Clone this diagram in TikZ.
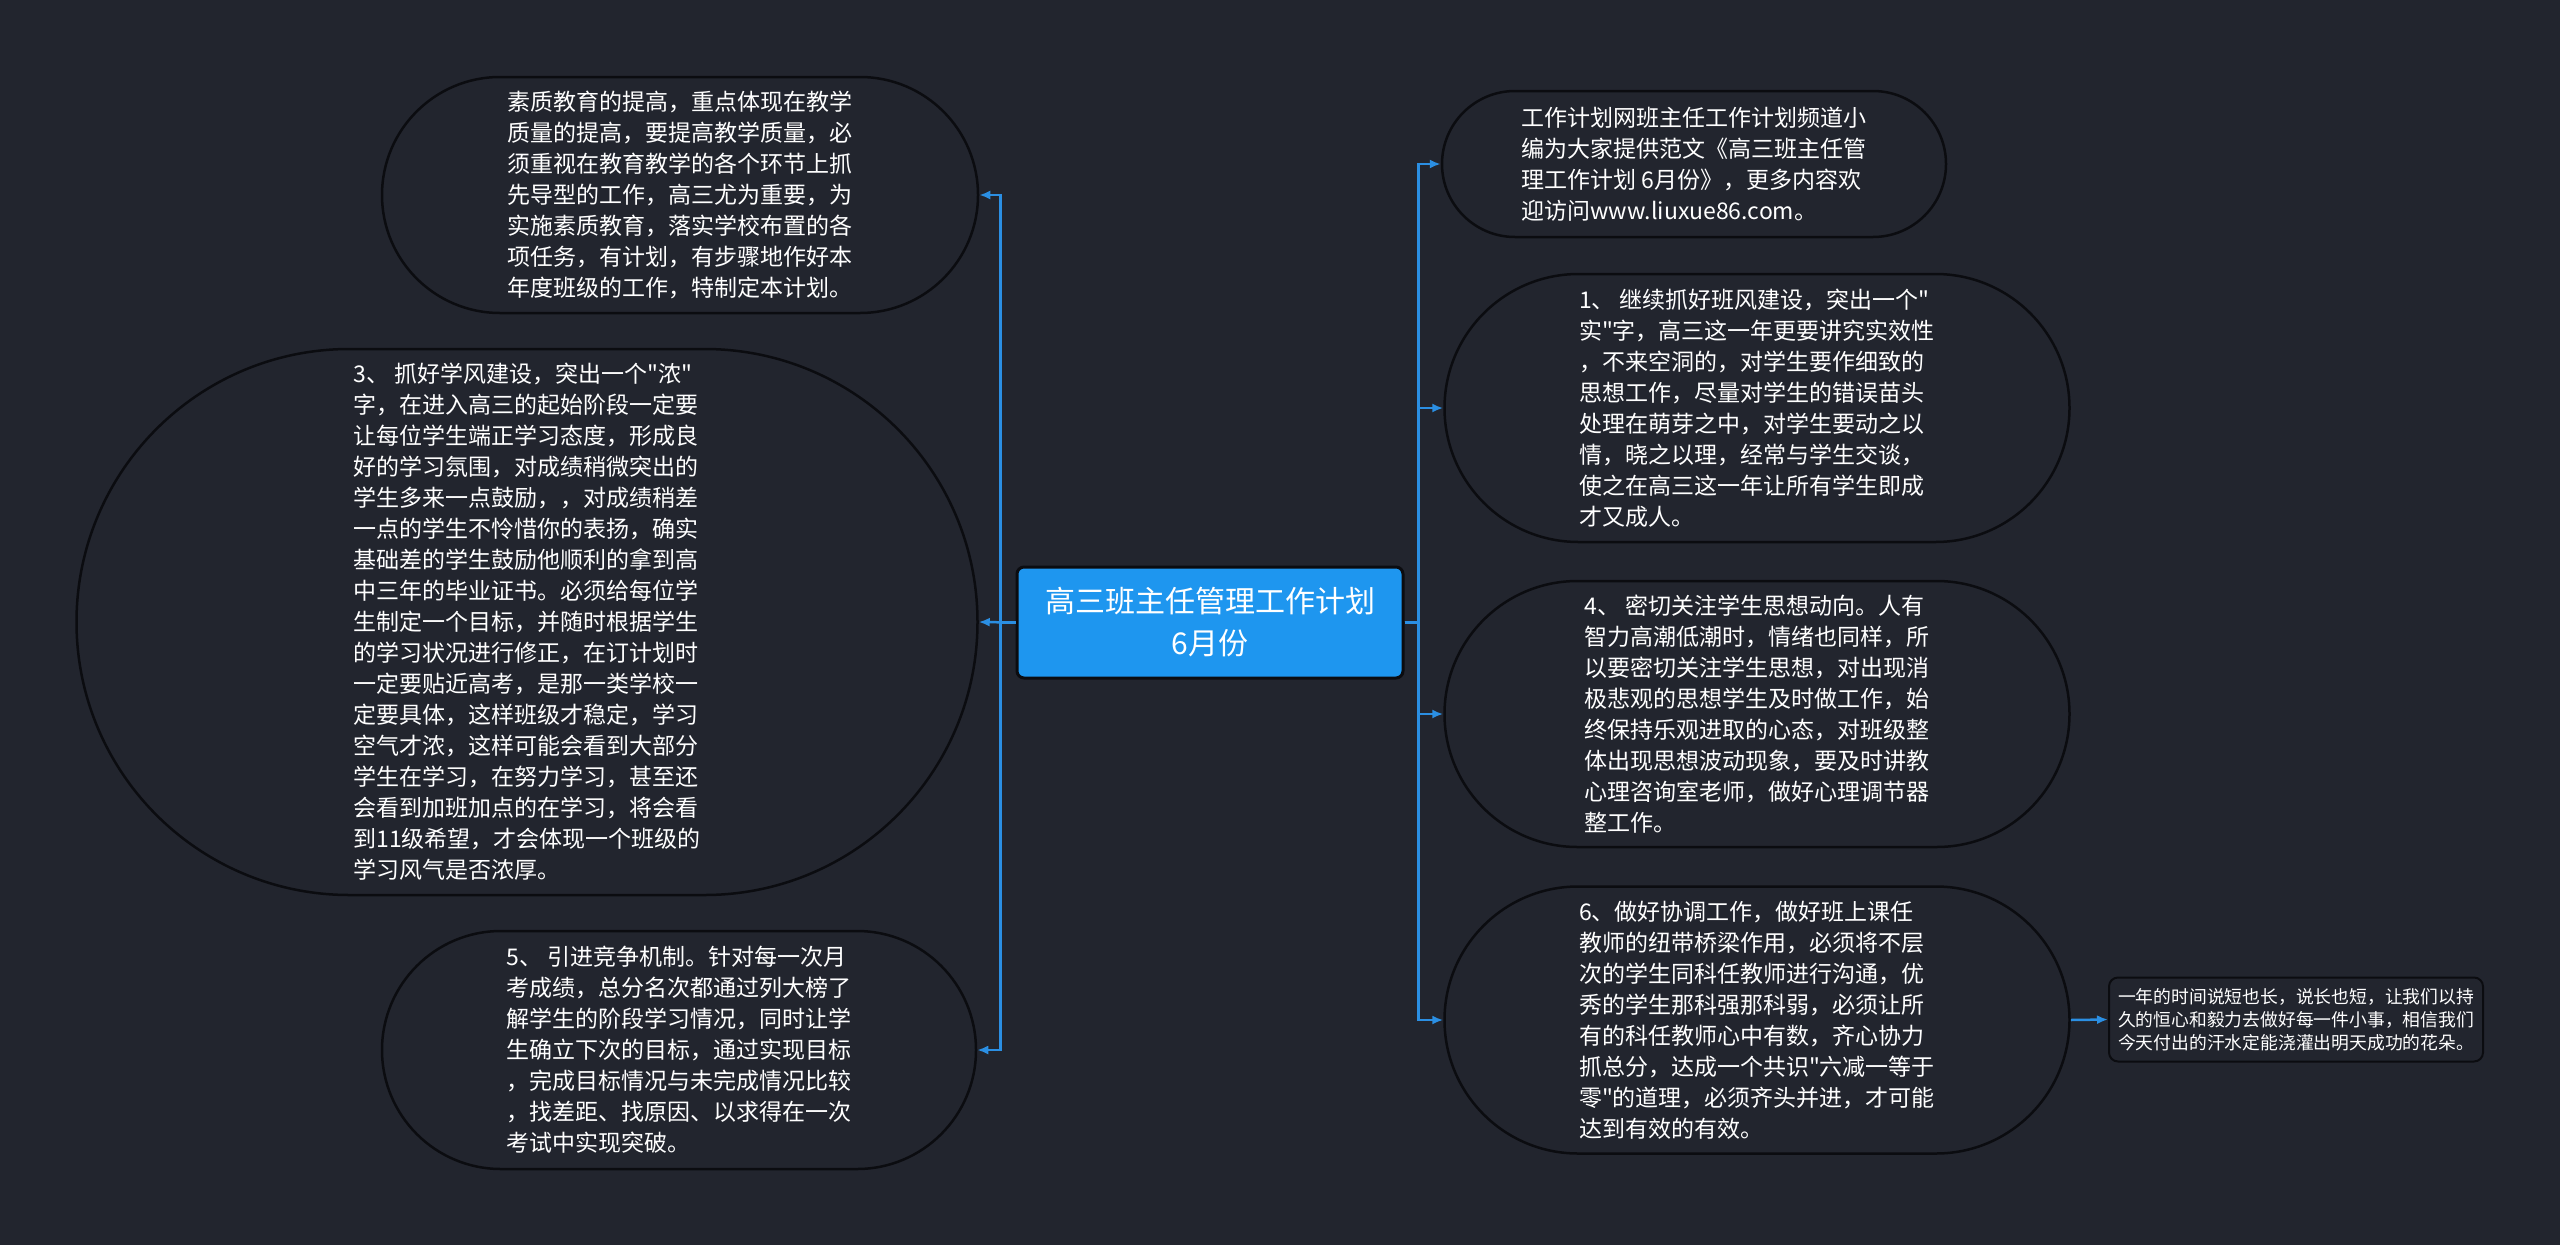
\documentclass[tikz,border=0pt]{standalone}
\usepackage{fontspec}
\setmainfont{Noto Sans CJK SC}[Ligatures=TeXOff]
\usetikzlibrary{shapes.misc,arrows.meta}
\definecolor{bgc}{RGB}{34,37,46}
\definecolor{edgec}{RGB}{11,12,16}
\definecolor{linec}{RGB}{43,143,227}
\definecolor{rootc}{RGB}{30,150,239}
\tikzset{
  leaf/.style={rounded rectangle, draw=edgec, line width=2.5pt, fill=bgc, text=white,
    align=left, inner sep=0pt, font=\fontsize{23pt}{31pt}\selectfont},
  note/.style={rectangle, rounded corners=9pt, draw=edgec, line width=2pt, fill=bgc, text=white,
    align=left, inner sep=0pt, font=\fontsize{17.8pt}{23pt}\selectfont},
  rootbox/.style={rectangle, rounded corners=7pt, draw=edgec, line width=3pt, fill=rootc, text=white,
    align=center, inner sep=0pt, font=\fontsize{30pt}{42pt}\selectfont},
  conn/.style={draw=linec, line width=2.5pt, -{Latex[length=11pt,width=9pt]}},
}
\begin{document}
\begin{tikzpicture}[x=1pt,y=-1pt]
\fill[bgc] (0,0) rectangle (2560,1245);
\useasboundingbox (0,0) rectangle (2560,1245);

\node[rootbox, minimum width=386pt, minimum height=111pt] (root) at (1210,622.5)
  {高三班主任管理工作计划\\6月份};

\node[leaf, minimum width=596pt, minimum height=236pt] (n0) at (680,195) {素质教育的提高，重点体现在教学\\
质量的提高，要提高教学质量，必\\
须重视在教育教学的各个环节上抓\\
先导型的工作，高三尤为重要，为\\
实施素质教育，落实学校布置的各\\
项任务，有计划，有步骤地作好本\\
年度班级的工作，特制定本计划。};

\node[leaf, minimum width=901pt, minimum height=546pt] (n1) at (527,622) {3、 抓好学风建设，突出一个"浓"\\
字，在进入高三的起始阶段一定要\\
让每位学生端正学习态度，形成良\\
好的学习氛围，对成绩稍微突出的\\
学生多来一点鼓励，，对成绩稍差\\
一点的学生不怜惜你的表扬，确实\\
基础差的学生鼓励他顺利的拿到高\\
中三年的毕业证书。必须给每位学\\
生制定一个目标，并随时根据学生\\
的学习状况进行修正，在订计划时\\
一定要贴近高考，是那一类学校一\\
定要具体，这样班级才稳定，学习\\
空气才浓，这样可能会看到大部分\\
学生在学习，在努力学习，甚至还\\
会看到加班加点的在学习，将会看\\
到11级希望，才会体现一个班级的\\
学习风气是否浓厚。};

\node[leaf, minimum width=594pt, minimum height=238pt] (n2) at (679,1050) {5、 引进竞争机制。针对每一次月\\
考成绩，总分名次都通过列大榜了\\
解学生的阶段学习情况，同时让学\\
生确立下次的目标，通过实现目标\\
，完成目标情况与未完成情况比较\\
，找差距、找原因、以求得在一次\\
考试中实现突破。};

\node[leaf, minimum width=504pt, minimum height=146pt] (r0) at (1694,164) {工作计划网班主任工作计划频道小\\
编为大家提供范文《高三班主任管\\
理工作计划 6月份》，更多内容欢\\
迎访问www.liuxue86.com。};

\node[leaf, minimum width=625pt, minimum height=268pt] (r1) at (1757,408) {1、 继续抓好班风建设，突出一个"\\
实"字，高三这一年更要讲究实效性\\
，不来空洞的，对学生要作细致的\\
思想工作，尽量对学生的错误苗头\\
处理在萌芽之中，对学生要动之以\\
情，晓之以理，经常与学生交谈，\\
使之在高三这一年让所有学生即成\\
才又成人。};

\node[leaf, minimum width=625pt, minimum height=266pt] (r2) at (1757,714) {4、 密切关注学生思想动向。人有\\
智力高潮低潮时，情绪也同样，所\\
以要密切关注学生思想，对出现消\\
极悲观的思想学生及时做工作，始\\
终保持乐观进取的心态，对班级整\\
体出现思想波动现象，要及时讲教\\
心理咨询室老师，做好心理调节器\\
整工作。};

\node[leaf, minimum width=625pt, minimum height=267pt] (r3) at (1757,1020) {6、做好协调工作，做好班上课任\\
教师的纽带桥梁作用，必须将不层\\
次的学生同科任教师进行沟通，优\\
秀的学生那科强那科弱，必须让所\\
有的科任教师心中有数，齐心协力\\
抓总分，达成一个共识"六减一等于\\
零"的道理，必须齐头并进，才可能\\
达到有效的有效。};

\node[note, minimum width=374pt, minimum height=84pt] (r4) at (2296,1019.5) {一年的时间说短也长，说长也短，让我们以持\\
久的恒心和毅力去做好每一件小事，相信我们\\
今天付出的汗水定能浇灌出明天成功的花朵。};

\draw[conn] (root.west) -- ++(-15,0) |- (n0.east);
\draw[conn] (root.west) -- (n1.east);
\draw[conn] (root.west) -- ++(-15,0) |- (n2.east);
\draw[conn] (root.east) -- ++(14,0) |- (r0.west);
\draw[conn] (root.east) -- ++(14,0) |- (r1.west);
\draw[conn] (root.east) -- ++(14,0) |- (r2.west);
\draw[conn] (root.east) -- ++(14,0) |- (r3.west);
\draw[conn] (r3.east) -- (r4.west);
\end{tikzpicture}
\end{document}
